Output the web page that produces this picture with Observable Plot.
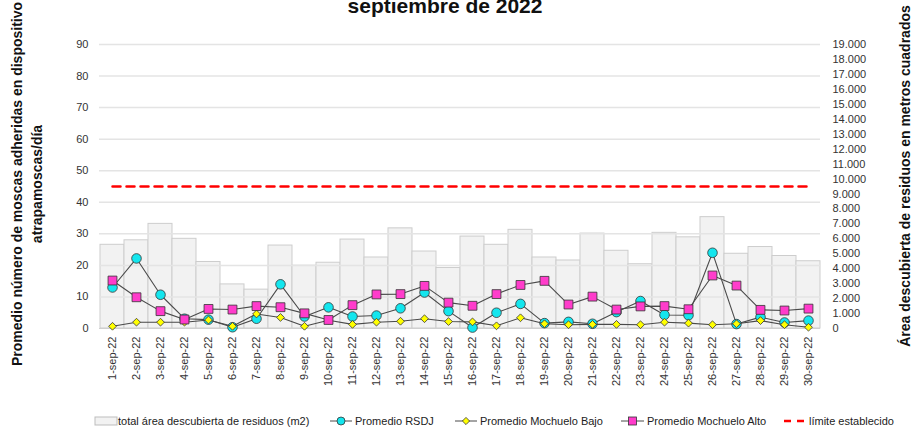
<!DOCTYPE html>
<html>
<head>
<meta charset="utf-8">
<script src="https://cdn.jsdelivr.net/npm/d3@7"></script>
<script src="https://cdn.jsdelivr.net/npm/@observablehq/plot@0.6"></script>
<style>
  html, body { margin: 0; padding: 0; background: #fff; overflow: hidden; }
  #wrap { position: relative; width: 914px; height: 433px; background: #fff; }
  #wrap > svg { position: absolute; left: 0; top: 0; }
</style>
</head>
<body>
<div id="wrap"></div>
<script>
// ---------- data ----------
const fechas = ["1-sep-22","2-sep-22","3-sep-22","4-sep-22","5-sep-22","6-sep-22","7-sep-22","8-sep-22","9-sep-22","10-sep-22",
  "11-sep-22","12-sep-22","13-sep-22","14-sep-22","15-sep-22","16-sep-22","17-sep-22","18-sep-22","19-sep-22","20-sep-22",
  "21-sep-22","22-sep-22","23-sep-22","24-sep-22","25-sep-22","26-sep-22","27-sep-22","28-sep-22","29-sep-22","30-sep-22"];
const areaM2 = [5600,5900,7000,6000,4450,2950,2600,5550,4200,4400,5950,4750,6700,5150,4050,6150,5600,6600,4750,4550,
  6350,5200,4300,6400,6100,7450,5000,5450,4850,4500];
const promedioRSDJ = [13.0,22.2,10.7,3.1,2.8,0.4,3.1,14.0,3.8,6.7,3.8,4.1,6.4,11.4,5.5,0.3,5.0,7.8,1.7,2.1,
  1.5,5.2,8.7,4.3,4.2,24.0,1.4,3.6,1.9,2.5];
const promedioMochueloBajo = [0.7,2.0,2.0,2.0,2.7,0.7,4.6,3.5,0.7,2.6,1.3,2.0,2.3,3.1,2.2,2.1,0.85,3.4,1.5,1.2,
  1.3,1.3,1.2,2.0,1.7,1.2,1.5,2.5,1.2,0.4];
const promedioMochueloAlto = [15.2,9.9,5.5,2.85,6.2,6.0,7.1,6.75,4.8,2.7,7.4,10.8,10.9,13.5,8.2,7.2,10.9,13.8,15.1,7.6,
  10.1,6.0,7.0,7.1,6.1,16.8,13.6,5.9,5.7,6.3];
const limiteEstablecido = 45;
const ticksIzquierda = [0,10,20,30,40,50,60,70,80,90];
const ticksDerecha = [0,1000,2000,3000,4000,5000,6000,7000,8000,9000,10000,11000,12000,13000,14000,15000,16000,17000,18000,19000];

const titulo = "septiembre de 2022";
const tituloEjeIzq = ["Promedio número de moscas adheridas en dispositivo", "atrapamoscas/día"];
const tituloEjeDer = "Área descubierta de residuos en metros cuadrados";
const leyenda = ["total área descubierta de residuos (m2)", "Promedio RSDJ", "Promedio Mochuelo Bajo", "Promedio Mochuelo Alto", "límite establecido"];

// ---------- setup ----------
const rows = fechas.map((f, i) => ({
  fecha: f, area: areaM2[i], rsdj: promedioRSDJ[i], bajo: promedioMochueloBajo[i], alto: promedioMochueloAlto[i]
}));
const FONT = '"Liberation Sans", Arial, sans-serif';
const W = 914, H = 400;
const M = {marginTop: 44, marginBottom: 72, marginLeft: 99, marginRight: 94};
const C_CYAN = "#14e6ee", C_YEL = "#ffff00", C_PINK = "#ff3ccb", C_LINE = "#4a4a4a", C_MK = "#333333";
const fmtMiles = d3.formatLocale({decimal: ",", thousands: ".", grouping: [3], currency: ["", ""]}).format(",");
const wrap = document.getElementById("wrap");

// bars on the right-hand scale
const plotA = Plot.plot({
  width: W, height: H, ...M,
  style: {fontFamily: FONT, fontSize: "11px", color: "#333", background: "transparent", overflow: "visible"},
  x: {type: "band", domain: fechas, padding: 0, axis: null},
  y: {domain: [0, 19000], axis: "right", ticks: ticksDerecha, tickFormat: fmtMiles, tickSize: 0, tickPadding: 12, label: null},
  marks: [
    Plot.barY(rows, {x: "fecha", y: "area", fill: "#f2f2f2", stroke: "#cdcdcd", strokeWidth: 1})
  ]
});
wrap.appendChild(plotA);

// lines on the left-hand scale
const plotB = Plot.plot({
  width: W, height: H, ...M,
  style: {fontFamily: FONT, fontSize: "11px", color: "#333", background: "transparent", overflow: "visible"},
  x: {type: "point", domain: fechas, padding: 0.5, tickRotate: -90, tickSize: 0, tickPadding: 8, label: null},
  y: {domain: [0, 90], ticks: ticksIzquierda, tickSize: 0, tickPadding: 11, label: null},
  marks: [
    Plot.ruleY(ticksIzquierda.filter(v => v > 0), {stroke: "#e4e4e4", strokeWidth: 1.5}),
    Plot.ruleY([0], {stroke: "#cfcfcf", strokeWidth: 1}),
    Plot.line(rows, {x: "fecha", y: () => limiteEstablecido, stroke: "#ff0000", strokeWidth: 2.5, strokeDasharray: "8,6"}),
    Plot.line(rows, {x: "fecha", y: "rsdj", stroke: C_LINE, strokeWidth: 1.1}),
    Plot.dot(rows, {x: "fecha", y: "rsdj", r: 4.8, fill: C_CYAN, stroke: C_MK, strokeWidth: 0.8}),
    Plot.line(rows, {x: "fecha", y: "bajo", stroke: C_LINE, strokeWidth: 1.1}),
    Plot.dot(rows, {x: "fecha", y: "bajo", symbol: "diamond2", r: 3.5, fill: C_YEL, stroke: C_MK, strokeWidth: 0.8}),
    Plot.line(rows, {x: "fecha", y: "alto", stroke: C_LINE, strokeWidth: 1.1}),
    Plot.dot(rows, {x: "fecha", y: "alto", symbol: "square", r: 5, fill: C_PINK, stroke: C_MK, strokeWidth: 0.8})
  ]
});
wrap.appendChild(plotB);

// ---------- titles & legend ----------
const ov = d3.create("svg").attr("width", 914).attr("height", 433)
  .style("font-family", FONT).style("pointer-events", "none");

ov.append("text").attr("x", 445).attr("y", 13).attr("text-anchor", "middle")
  .attr("font-weight", "bold").attr("font-size", 21).attr("fill", "#111").text(titulo);

ov.append("text").attr("transform", "translate(22,184) rotate(-90)").attr("text-anchor", "middle")
  .attr("font-weight", "bold").attr("font-size", 14).attr("fill", "#111").text(tituloEjeIzq[0]);
ov.append("text").attr("transform", "translate(42,184) rotate(-90)").attr("text-anchor", "middle")
  .attr("font-weight", "bold").attr("font-size", 14).attr("fill", "#111").text(tituloEjeIzq[1]);
ov.append("text").attr("transform", "translate(910,176) rotate(-90)").attr("text-anchor", "middle")
  .attr("font-weight", "bold").attr("font-size", 14).attr("fill", "#111").text(tituloEjeDer);

const ly = 421;
const lg = ov.append("g").attr("font-size", 11).attr("fill", "#222");
// bars swatch
lg.append("rect").attr("x", 95).attr("y", ly - 4).attr("width", 22).attr("height", 8)
  .attr("fill", "#f2f2f2").attr("stroke", "#bdbdbd");
lg.append("text").attr("x", 118).attr("y", ly + 4).text(leyenda[0]);
// RSDJ
lg.append("line").attr("x1", 330).attr("x2", 352).attr("y1", ly).attr("y2", ly).attr("stroke", C_LINE);
lg.append("circle").attr("cx", 341).attr("cy", ly).attr("r", 4).attr("fill", C_CYAN).attr("stroke", C_MK).attr("stroke-width", 0.8);
lg.append("text").attr("x", 355).attr("y", ly + 4).text(leyenda[1]);
// Bajo
lg.append("line").attr("x1", 455).attr("x2", 477).attr("y1", ly).attr("y2", ly).attr("stroke", C_LINE);
lg.append("path").attr("d", `M466,${ly-3.6}L469.6,${ly}L466,${ly+3.6}L462.4,${ly}Z`).attr("fill", C_YEL).attr("stroke", C_MK).attr("stroke-width", 0.8);
lg.append("text").attr("x", 480).attr("y", ly + 4).text(leyenda[2]);
// Alto
lg.append("line").attr("x1", 621).attr("x2", 644).attr("y1", ly).attr("y2", ly).attr("stroke", C_LINE);
lg.append("rect").attr("x", 628.5).attr("y", ly - 4).attr("width", 8).attr("height", 8).attr("fill", C_PINK).attr("stroke", C_MK).attr("stroke-width", 0.8);
lg.append("text").attr("x", 647).attr("y", ly + 4).text(leyenda[3]);
// limit
lg.append("line").attr("x1", 784).attr("x2", 806).attr("y1", ly).attr("y2", ly).attr("stroke", "#ff0000")
  .attr("stroke-width", 2.5).attr("stroke-dasharray", "7,6");
lg.append("text").attr("x", 809).attr("y", ly + 4).text(leyenda[4]);

wrap.appendChild(ov.node());
</script>
</body>
</html>
